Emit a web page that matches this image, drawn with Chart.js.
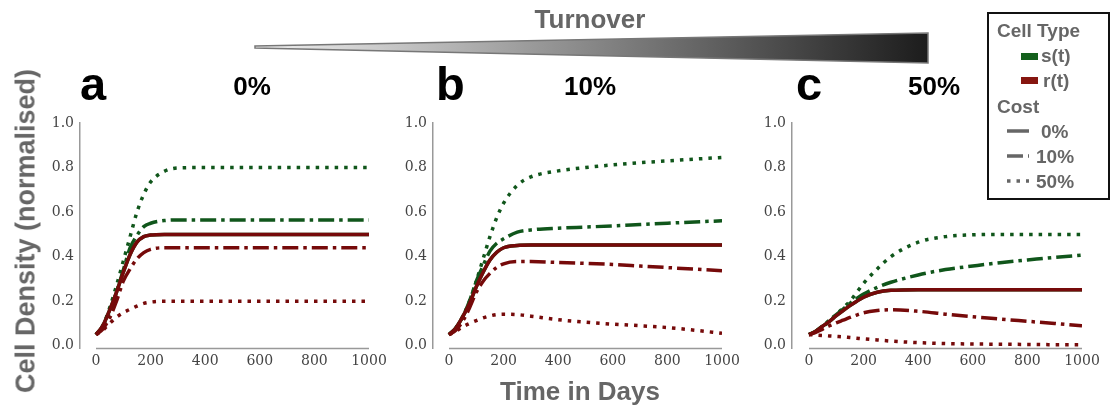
<!DOCTYPE html>
<html>
<head>
<meta charset="utf-8">
<script src="https://cdn.jsdelivr.net/npm/chart.js@4/dist/chart.umd.min.js"></script>
<style>
  html, body { margin: 0; padding: 0; background: #fff; }
  #wrap { position: relative; width: 1113px; height: 408px; overflow: hidden;
          font-family: "Liberation Sans", Arial, sans-serif; }
  .abs { position: absolute; white-space: nowrap; line-height: 1; }
  .letter { font-size: 47px; font-weight: bold; color: #000; }
  .pct { font-size: 26px; font-weight: bold; color: #000; transform: translateX(-50%); }
  .gray { color: #666; font-weight: bold; }
  .lg { font-size: 19px; color: #666; font-weight: bold; }
  canvas { position: absolute; }
</style>
</head>
<body>
<div id="wrap">
  <canvas id="tri" width="1113" height="80" style="left:0;top:0"></canvas>
  <div class="abs gray" style="left:590px;top:6px;font-size:26px;transform:translateX(-50%)">Turnover</div>

  <div class="abs letter" style="left:80px;top:60px">a</div>
  <div class="abs letter" style="left:436px;top:60px">b</div>
  <div class="abs letter" style="left:796px;top:60px">c</div>
  <div class="abs pct" style="left:252px;top:73px">0%</div>
  <div class="abs pct" style="left:590px;top:73px">10%</div>
  <div class="abs pct" style="left:934px;top:73px">50%</div>

  <canvas id="chartA"></canvas>
  <canvas id="chartB"></canvas>
  <canvas id="chartC"></canvas>

  <div class="abs gray" style="left:25.6px;top:231px;font-size:27px;transform:translate(-50%,-50%) rotate(-90deg)">Cell Density (normalised)</div>
  <div class="abs gray" style="left:580px;top:378px;font-size:26px;transform:translateX(-50%)">Time in Days</div>

  <div id="legend" class="abs" style="left:987px;top:12px;width:119px;height:184px;border:2px solid #111"></div>
</div>

<script>
// ── DATA ─────────────────────────────────────────────────────
const days = [0, 25, 50, 75, 100, 125, 150, 175, 200, 250, 300, 400, 500, 600, 700, 800, 900, 1000];
const xTicks = [0, 200, 400, 600, 800, 1000];
const yTicks = [0, 0.2, 0.4, 0.6, 0.8, 1.0];

const costs = ["0%", "10%", "50%"];
const turnovers = ["0%", "10%", "50%"];

// panel a – turnover 0%
const aS0  = [0.05, 0.09, 0.16, 0.24, 0.33, 0.41, 0.465, 0.49, 0.497, 0.5, 0.5, 0.5, 0.5, 0.5, 0.5, 0.5, 0.5, 0.5];
const aR0  = [0.05, 0.09, 0.16, 0.24, 0.33, 0.41, 0.465, 0.49, 0.497, 0.5, 0.5, 0.5, 0.5, 0.5, 0.5, 0.5, 0.5, 0.5];
const aS10 = [0.05, 0.085, 0.15, 0.24, 0.34, 0.44, 0.495, 0.535, 0.55, 0.562, 0.565, 0.565, 0.565, 0.565, 0.565, 0.565, 0.565, 0.565];
const aR10 = [0.05, 0.075, 0.125, 0.2, 0.29, 0.345, 0.39, 0.418, 0.433, 0.44, 0.44, 0.44, 0.44, 0.44, 0.44, 0.44, 0.44, 0.44];
const aS50 = [0.05, 0.09, 0.17, 0.27, 0.38, 0.49, 0.6, 0.68, 0.735, 0.783, 0.798, 0.8, 0.8, 0.8, 0.8, 0.8, 0.8, 0.8];
const aR50 = [0.05, 0.07, 0.1, 0.128, 0.148, 0.164, 0.178, 0.19, 0.196, 0.2, 0.2, 0.2, 0.2, 0.2, 0.2, 0.2, 0.2, 0.2];

// panel b – turnover 10%
const bS0  = [0.05, 0.08, 0.13, 0.19, 0.265, 0.33, 0.385, 0.42, 0.44, 0.45, 0.452, 0.452, 0.452, 0.452, 0.452, 0.452, 0.452, 0.452];
const bR0  = [0.05, 0.08, 0.13, 0.19, 0.265, 0.33, 0.385, 0.42, 0.44, 0.45, 0.452, 0.452, 0.452, 0.452, 0.452, 0.452, 0.452, 0.452];
const bS10 = [0.05, 0.08, 0.13, 0.2, 0.29, 0.36, 0.425, 0.46, 0.48, 0.51, 0.52, 0.528, 0.533, 0.538, 0.544, 0.55, 0.556, 0.561];
const bR10 = [0.05, 0.07, 0.11, 0.17, 0.24, 0.29, 0.325, 0.352, 0.368, 0.378, 0.378, 0.374, 0.37, 0.365, 0.358, 0.351, 0.344, 0.337];
const bS50 = [0.05, 0.08, 0.13, 0.2, 0.29, 0.39, 0.49, 0.575, 0.64, 0.72, 0.758, 0.785, 0.8, 0.812, 0.822, 0.83, 0.838, 0.845];
const bR50 = [0.05, 0.065, 0.085, 0.1, 0.113, 0.125, 0.134, 0.14, 0.142, 0.14, 0.133, 0.117, 0.106, 0.097, 0.09, 0.082, 0.07, 0.056];

// panel c – turnover 50%
const cS0  = [0.05, 0.065, 0.088, 0.11, 0.135, 0.158, 0.18, 0.2, 0.218, 0.24, 0.249, 0.252, 0.252, 0.252, 0.252, 0.252, 0.252, 0.252];
const cR0  = [0.05, 0.065, 0.088, 0.11, 0.135, 0.158, 0.18, 0.2, 0.218, 0.24, 0.249, 0.252, 0.252, 0.252, 0.252, 0.252, 0.252, 0.252];
const cS10 = [0.05, 0.065, 0.09, 0.115, 0.14, 0.165, 0.19, 0.212, 0.232, 0.262, 0.285, 0.318, 0.342, 0.358, 0.373, 0.385, 0.397, 0.407];
const cR10 = [0.05, 0.06, 0.075, 0.09, 0.103, 0.115, 0.127, 0.138, 0.148, 0.158, 0.162, 0.155, 0.142, 0.13, 0.12, 0.11, 0.1, 0.09];
const cS50 = [0.05, 0.065, 0.085, 0.11, 0.14, 0.17, 0.2, 0.24, 0.28, 0.345, 0.4, 0.465, 0.49, 0.498, 0.5, 0.5, 0.5, 0.5];
const cR50 = [0.05, 0.048, 0.046, 0.044, 0.042, 0.04, 0.037, 0.034, 0.031, 0.026, 0.021, 0.014, 0.01, 0.008, 0.007, 0.006, 0.005, 0.005];

// ── STYLE ────────────────────────────────────────────────────
const GREEN = "#10561b";
const RED = "#760a0a";
const DASH = { "0%": [], "10%": [16, 5, 3.5, 5], "50%": [3.5, 6] };
const AXIS_GRAY = "#999";
const TICK_FONT = { family: "'DejaVu Serif', serif", size: 14 };

// layout (page px)
const Y_TOP = 123;      // value 1.0
const Y_MIN = -0.01;
const PLOT_H = 225;
const PAD_TOP = 15, PAD_RIGHT = 28, Y_W = 60, X_H = 30;

const panels = [
  { id: "chartA", axisX: 80,  x0: 96,  x1000: 369, s: [aS0, aS10, aS50], r: [aR0, aR10, aR50] },
  { id: "chartB", axisX: 433, x0: 449, x1000: 722, s: [bS0, bS10, bS50], r: [bR0, bR10, bR50] },
  { id: "chartC", axisX: 792, x0: 809, x1000: 1082, s: [cS0, cS10, cS50], r: [cR0, cR10, cR50] },
];

const pts = arr => days.map((d, i) => ({ x: d, y: arr[i] }));

// x axis line only spans 0..1000 (offset from the y axis)
const xAxisLine = {
  id: "xAxisLine",
  beforeDatasetsDraw(chart) {
    const { ctx, chartArea, scales: { x } } = chart;
    ctx.save();
    ctx.strokeStyle = AXIS_GRAY;
    ctx.lineWidth = 1.5;
    ctx.beginPath();
    ctx.moveTo(x.getPixelForValue(0), chartArea.bottom + 0.5);
    ctx.lineTo(x.getPixelForValue(1000), chartArea.bottom + 0.5);
    ctx.stroke();
    ctx.restore();
  }
};

function makePanel(p) {
  const cv = document.getElementById(p.id);
  const left = p.axisX - Y_W;
  const top = Y_TOP - PAD_TOP;
  const w = (p.x1000 - left) + PAD_RIGHT;
  const h = PAD_TOP + PLOT_H + X_H;
  cv.width = w; cv.height = h;
  cv.style.left = left + "px"; cv.style.top = top + "px";
  cv.style.width = w + "px"; cv.style.height = h + "px";

  const xMin = -(p.x0 - p.axisX) / (p.x1000 - p.x0) * 1000;

  const datasets = [];
  costs.forEach((c, i) => {
    // red drawn above green (lower order = on top)
    datasets.push({ data: pts(p.r[i]), borderColor: RED, borderDash: DASH[c], order: i });
    datasets.push({ data: pts(p.s[i]), borderColor: GREEN, borderDash: DASH[c], order: 10 + i });
  });
  datasets.forEach(d => Object.assign(d, {
    borderWidth: 3.5, pointRadius: 0, fill: false, borderCapStyle: "butt",
    cubicInterpolationMode: "monotone"
  }));

  new Chart(cv.getContext("2d"), {
    type: "line",
    data: { datasets },
    plugins: [xAxisLine],
    options: {
      responsive: false,
      animation: false,
      devicePixelRatio: 1,
      layout: { padding: { top: PAD_TOP, right: PAD_RIGHT, left: 0, bottom: 0 } },
      plugins: { legend: { display: false }, tooltip: { enabled: false } },
      scales: {
        x: {
          type: "linear", min: xMin, max: 1000,
          grid: { display: false, drawTicks: false },
          border: { display: false },
          ticks: { padding: 5, font: TICK_FONT, color: "#444", maxRotation: 0, autoSkip: false,
                   callback: v => String(v) },
          afterBuildTicks: s => { s.ticks = xTicks.map(v => ({ value: v })); },
          afterFit: s => { s.height = X_H; }
        },
        y: {
          min: Y_MIN, max: 1,
          grid: { display: false, drawTicks: false },
          border: { display: true, color: AXIS_GRAY, width: 1.5 },
          ticks: { padding: 6, font: TICK_FONT, color: "#444", autoSkip: false,
                   callback: v => Number(v).toFixed(1) },
          afterBuildTicks: s => { s.ticks = yTicks.map(v => ({ value: v })); },
          afterFit: s => { s.width = Y_W; }
        }
      }
    }
  });
}
panels.forEach(makePanel);

// ── TURNOVER WEDGE ───────────────────────────────────────────
(function drawWedge() {
  const ctx = document.getElementById("tri").getContext("2d");
  const g = ctx.createLinearGradient(255, 0, 928, 0);
  g.addColorStop(0, "#f2f2f2");
  g.addColorStop(1, "#1c1c1c");
  ctx.beginPath();
  ctx.moveTo(255, 46);
  ctx.lineTo(928, 33);
  ctx.lineTo(928, 63);
  ctx.lineTo(255, 48);
  ctx.closePath();
  ctx.fillStyle = g;
  ctx.fill();
  ctx.strokeStyle = "#777";
  ctx.lineWidth = 1.5;
  ctx.stroke();
})();

// ── LEGEND ───────────────────────────────────────────────────
(function buildLegend() {
  const wrap = document.getElementById("wrap");
  const add = (html, css) => {
    const el = document.createElement("div");
    el.className = "abs lg";
    el.style.cssText = css;
    el.innerHTML = html;
    wrap.appendChild(el);
  };
  add("Cell Type", "left:997px;top:21px");
  add("s(t)", "left:1041px;top:46px");
  add("r(t)", "left:1043px;top:71px");
  add("Cost", "left:997px;top:97px");
  add(`<span style="display:inline-block;width:17px;height:7px;background:#14601c"></span>`, "left:1021px;top:53px;line-height:0");
  add(`<span style="display:inline-block;width:17px;height:7px;background:#861610"></span>`, "left:1021px;top:77px;line-height:0");
  const labelLeft = [1041, 1036, 1036];
  costs.forEach((c, i) => {
    const base = 138 + 25 * i;
    add(c, `left:${labelLeft[i]}px;top:${base - 16}px`);
    const dash = DASH[c].join(",") || "none";
    add(`<svg width="24" height="6"><line x1="0" y1="3" x2="22" y2="3" stroke="#666" stroke-width="3.5" stroke-dasharray="${dash}"/></svg>`,
        `left:1007px;top:${base - 10}px;line-height:0`);
  });
})();
</script>
</body>
</html>
